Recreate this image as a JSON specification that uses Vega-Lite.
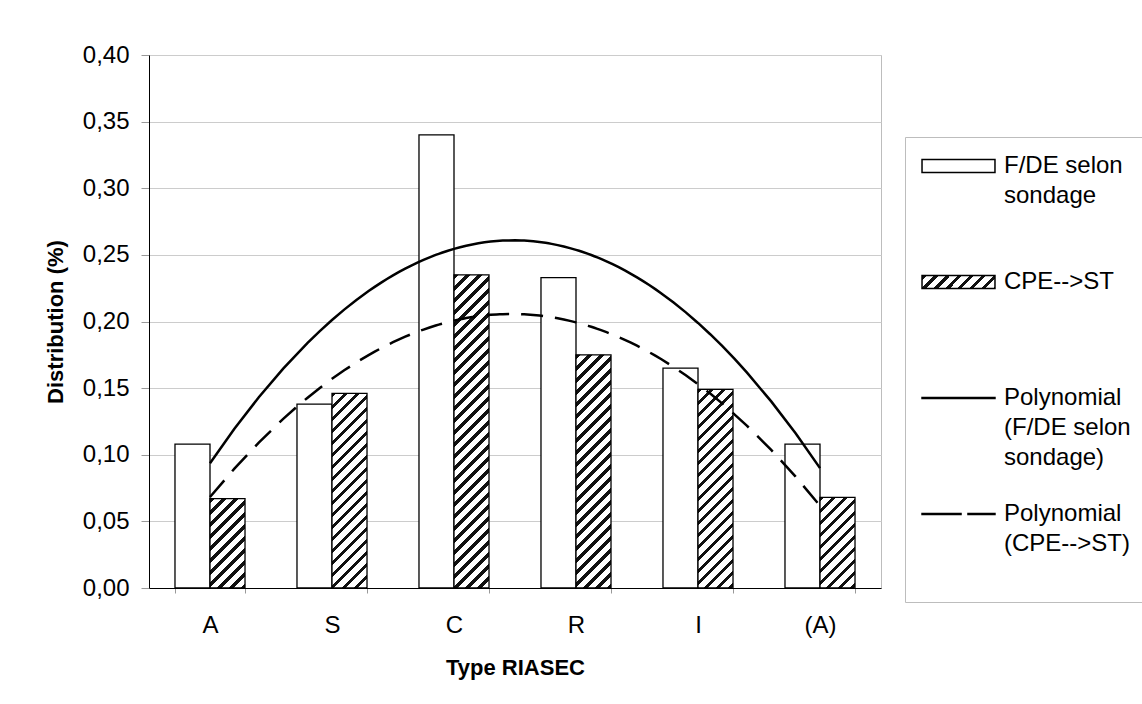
{
  "$schema": "https://vega.github.io/schema/vega-lite/v6.json",
  "autosize": {"type": "none"},
  "width": 732,
  "height": 533,
  "padding": {"left": 149, "top": 55, "right": 261, "bottom": 116},
  "background": "white",
  "config": {
    "font": "Liberation Sans",
    "view": {"stroke": "#bdbdbd", "strokeWidth": 1},
    "style": {"guide-label": {"dy": 7, "lineHeight": 30}}
  },
  "params": [
    {"name": "hatch", "value": [
      {"offset":0,"color":"#111"},{"offset":0.0075,"color":"#111"},{"offset":0.0075,"color":"#fff"},{"offset":0.02,"color":"#fff"},
      {"offset":0.02,"color":"#111"},{"offset":0.0275,"color":"#111"},{"offset":0.0275,"color":"#fff"},{"offset":0.04,"color":"#fff"},
      {"offset":0.04,"color":"#111"},{"offset":0.0475,"color":"#111"},{"offset":0.0475,"color":"#fff"},{"offset":0.06,"color":"#fff"},
      {"offset":0.06,"color":"#111"},{"offset":0.0675,"color":"#111"},{"offset":0.0675,"color":"#fff"},{"offset":0.08,"color":"#fff"},
      {"offset":0.08,"color":"#111"},{"offset":0.0875,"color":"#111"},{"offset":0.0875,"color":"#fff"},{"offset":0.1,"color":"#fff"},
      {"offset":0.1,"color":"#111"},{"offset":0.1075,"color":"#111"},{"offset":0.1075,"color":"#fff"},{"offset":0.12,"color":"#fff"},
      {"offset":0.12,"color":"#111"},{"offset":0.1275,"color":"#111"},{"offset":0.1275,"color":"#fff"},{"offset":0.14,"color":"#fff"},
      {"offset":0.14,"color":"#111"},{"offset":0.1475,"color":"#111"},{"offset":0.1475,"color":"#fff"},{"offset":0.16,"color":"#fff"},
      {"offset":0.16,"color":"#111"},{"offset":0.1675,"color":"#111"},{"offset":0.1675,"color":"#fff"},{"offset":0.18,"color":"#fff"},
      {"offset":0.18,"color":"#111"},{"offset":0.1875,"color":"#111"},{"offset":0.1875,"color":"#fff"},{"offset":0.2,"color":"#fff"},
      {"offset":0.2,"color":"#111"},{"offset":0.2075,"color":"#111"},{"offset":0.2075,"color":"#fff"},{"offset":0.22,"color":"#fff"},
      {"offset":0.22,"color":"#111"},{"offset":0.2275,"color":"#111"},{"offset":0.2275,"color":"#fff"},{"offset":0.24,"color":"#fff"},
      {"offset":0.24,"color":"#111"},{"offset":0.2475,"color":"#111"},{"offset":0.2475,"color":"#fff"},{"offset":0.26,"color":"#fff"},
      {"offset":0.26,"color":"#111"},{"offset":0.2675,"color":"#111"},{"offset":0.2675,"color":"#fff"},{"offset":0.28,"color":"#fff"},
      {"offset":0.28,"color":"#111"},{"offset":0.2875,"color":"#111"},{"offset":0.2875,"color":"#fff"},{"offset":0.3,"color":"#fff"},
      {"offset":0.3,"color":"#111"},{"offset":0.3075,"color":"#111"},{"offset":0.3075,"color":"#fff"},{"offset":0.32,"color":"#fff"},
      {"offset":0.32,"color":"#111"},{"offset":0.3275,"color":"#111"},{"offset":0.3275,"color":"#fff"},{"offset":0.34,"color":"#fff"},
      {"offset":0.34,"color":"#111"},{"offset":0.3475,"color":"#111"},{"offset":0.3475,"color":"#fff"},{"offset":0.36,"color":"#fff"},
      {"offset":0.36,"color":"#111"},{"offset":0.3675,"color":"#111"},{"offset":0.3675,"color":"#fff"},{"offset":0.38,"color":"#fff"},
      {"offset":0.38,"color":"#111"},{"offset":0.3875,"color":"#111"},{"offset":0.3875,"color":"#fff"},{"offset":0.4,"color":"#fff"},
      {"offset":0.4,"color":"#111"},{"offset":0.4075,"color":"#111"},{"offset":0.4075,"color":"#fff"},{"offset":0.42,"color":"#fff"},
      {"offset":0.42,"color":"#111"},{"offset":0.4275,"color":"#111"},{"offset":0.4275,"color":"#fff"},{"offset":0.44,"color":"#fff"},
      {"offset":0.44,"color":"#111"},{"offset":0.4475,"color":"#111"},{"offset":0.4475,"color":"#fff"},{"offset":0.46,"color":"#fff"},
      {"offset":0.46,"color":"#111"},{"offset":0.4675,"color":"#111"},{"offset":0.4675,"color":"#fff"},{"offset":0.48,"color":"#fff"},
      {"offset":0.48,"color":"#111"},{"offset":0.4875,"color":"#111"},{"offset":0.4875,"color":"#fff"},{"offset":0.5,"color":"#fff"},
      {"offset":0.5,"color":"#111"},{"offset":0.5075,"color":"#111"},{"offset":0.5075,"color":"#fff"},{"offset":0.52,"color":"#fff"},
      {"offset":0.52,"color":"#111"},{"offset":0.5275,"color":"#111"},{"offset":0.5275,"color":"#fff"},{"offset":0.54,"color":"#fff"},
      {"offset":0.54,"color":"#111"},{"offset":0.5475,"color":"#111"},{"offset":0.5475,"color":"#fff"},{"offset":0.56,"color":"#fff"},
      {"offset":0.56,"color":"#111"},{"offset":0.5675,"color":"#111"},{"offset":0.5675,"color":"#fff"},{"offset":0.58,"color":"#fff"},
      {"offset":0.58,"color":"#111"},{"offset":0.5875,"color":"#111"},{"offset":0.5875,"color":"#fff"},{"offset":0.6,"color":"#fff"}
    ]}
  ],
  "data": {"values": [
    {"cat": "A", "idx": 1, "s": "F/DE selon sondage", "v": 0.108},
    {"cat": "S", "idx": 2, "s": "F/DE selon sondage", "v": 0.138},
    {"cat": "C", "idx": 3, "s": "F/DE selon sondage", "v": 0.340},
    {"cat": "R", "idx": 4, "s": "F/DE selon sondage", "v": 0.233},
    {"cat": "I", "idx": 5, "s": "F/DE selon sondage", "v": 0.165},
    {"cat": "(A)", "idx": 6, "s": "F/DE selon sondage", "v": 0.108},
    {"cat": "A", "idx": 1, "s": "CPE-->ST", "v": 0.067},
    {"cat": "S", "idx": 2, "s": "CPE-->ST", "v": 0.146},
    {"cat": "C", "idx": 3, "s": "CPE-->ST", "v": 0.235},
    {"cat": "R", "idx": 4, "s": "CPE-->ST", "v": 0.175},
    {"cat": "I", "idx": 5, "s": "CPE-->ST", "v": 0.149},
    {"cat": "(A)", "idx": 6, "s": "CPE-->ST", "v": 0.068}
  ]},
  "layer": [
    {
      "mark": {
        "type": "bar",
        "strokeWidth": 1.3,
        "fill": {"expr": "(datum.s || datum.value) == 'CPE-->ST' ? {gradient: 'linear', x1: 0, y1: 0, x2: datum.v ? 35*600/(1225 + pow(datum.v*1332.5, 2)) : 7.966, y2: datum.v ? datum.v*1332.5*600/(1225 + pow(datum.v*1332.5, 2)) : 1.419, stops: hatch} : (datum.value && indexof(datum.value, 'Polynomial') == 0 ? '#000000' : '#ffffff')"}
      },
      "encoding": {
        "x": {
          "field": "cat", "type": "nominal",
          "sort": ["A", "S", "C", "R", "I", "(A)"],
          "scale": {"paddingInner": 0.426, "paddingOuter": 0.213},
          "axis": {
            "title": "Type RIASEC", "titleFontSize": 22, "titleFontWeight": "bold", "titleColor": "#000", "titlePadding": 20,
            "labelAngle": 0, "labelFontSize": 24, "labelColor": "#000", "labelPadding": 13,
            "tickSize": 5, "tickBand": "extent", "tickColor": "#999", "domainColor": "#000", "grid": false
          }
        },
        "xOffset": {
          "field": "s", "type": "nominal",
          "sort": ["F/DE selon sondage", "CPE-->ST"],
          "scale": {"paddingInner": 0, "paddingOuter": 0}
        },
        "y": {
          "field": "v", "type": "quantitative", "stack": null,
          "scale": {"domain": [0, 0.4], "nice": false},
          "axis": {
            "title": "Distribution (%)", "titleFontSize": 22, "titleFontWeight": "bold", "titleColor": "#000", "titlePadding": 15,
            "values": [0, 0.05, 0.1, 0.15, 0.2, 0.25, 0.3, 0.35, 0.4],
            "labelExpr": "replace(format(datum.value, '.2f'), '.', ',')",
            "labelFontSize": 24, "labelColor": "#000", "labelPadding": 12, "labelOffset": -7,
            "tickSize": 8, "tickColor": "#999", "domainColor": "#000",
            "grid": true, "gridColor": "#cccccc"
          }
        },
        "stroke": {
          "field": "s", "type": "nominal",
          "scale": {
            "domain": ["F/DE selon sondage", "CPE-->ST", "Polynomial (F/DE selon sondage)", "Polynomial (CPE-->ST)"],
            "range": ["#000", "#000", "#000", "#000"]
          },
          "legend": {
            "orient": "none", "legendX": 756, "legendY": 82,
            "title": null, "padding": 16,
            "strokeColor": "#bdbdbd", "fillColor": "#ffffff",
            "symbolSize": 576, "symbolOffset": 24.5,
            "symbolType": {"expr": "datum.value == 'Polynomial (CPE-->ST)' ? 'M-3.04,-0.05H0.21V0.05H-3.04Z M0.79,-0.05H3.04V0.05H0.79Z' : datum.value == 'Polynomial (F/DE selon sondage)' ? 'M-3.04,-0.05H3.04V0.05H-3.04Z' : 'M-3.04,-0.542H3.04V0.542H-3.04Z'"},
            "symbolStrokeColor": "#000",
            "symbolOpacity": 1,
            "labelFontSize": 24, "labelColor": "#000", "labelOffset": 32.5, "labelLimit": 300,
            "labelBaseline": "alphabetic",
            "rowPadding": 31,
            "labelExpr": "datum.value == 'F/DE selon sondage' ? ['F/DE selon', 'sondage', ''] : datum.value == 'CPE-->ST' ? ['CPE-->ST', '', ''] : datum.value == 'Polynomial (CPE-->ST)' ? ['Polynomial', '(CPE-->ST)', ''] : ['Polynomial', '(F/DE selon', 'sondage)']"
          }
        }
      }
    },
    {
      "transform": [
        {"filter": "datum.s == 'F/DE selon sondage'"},
        {"regression": "v", "on": "idx", "method": "poly", "order": 2, "extent": [1, 6]}
      ],
      "mark": {"type": "line", "stroke": "#000", "strokeWidth": 2.5},
      "encoding": {
        "x": {"field": "idx", "type": "quantitative", "scale": {"domain": [0.5, 6.5], "nice": false, "zero": false}, "axis": null},
        "y": {"field": "v", "type": "quantitative"}
      }
    },
    {
      "transform": [
        {"filter": "datum.s == 'CPE-->ST'"},
        {"regression": "v", "on": "idx", "method": "poly", "order": 2, "extent": [1, 6]}
      ],
      "mark": {"type": "line", "stroke": "#000", "strokeWidth": 2.5, "strokeDash": [22, 12]},
      "encoding": {
        "x": {"field": "idx", "type": "quantitative", "scale": {"domain": [0.5, 6.5], "nice": false, "zero": false}, "axis": null},
        "y": {"field": "v", "type": "quantitative"}
      }
    }
  ],
  "resolve": {"scale": {"x": "independent"}, "axis": {"x": "independent"}}
}
